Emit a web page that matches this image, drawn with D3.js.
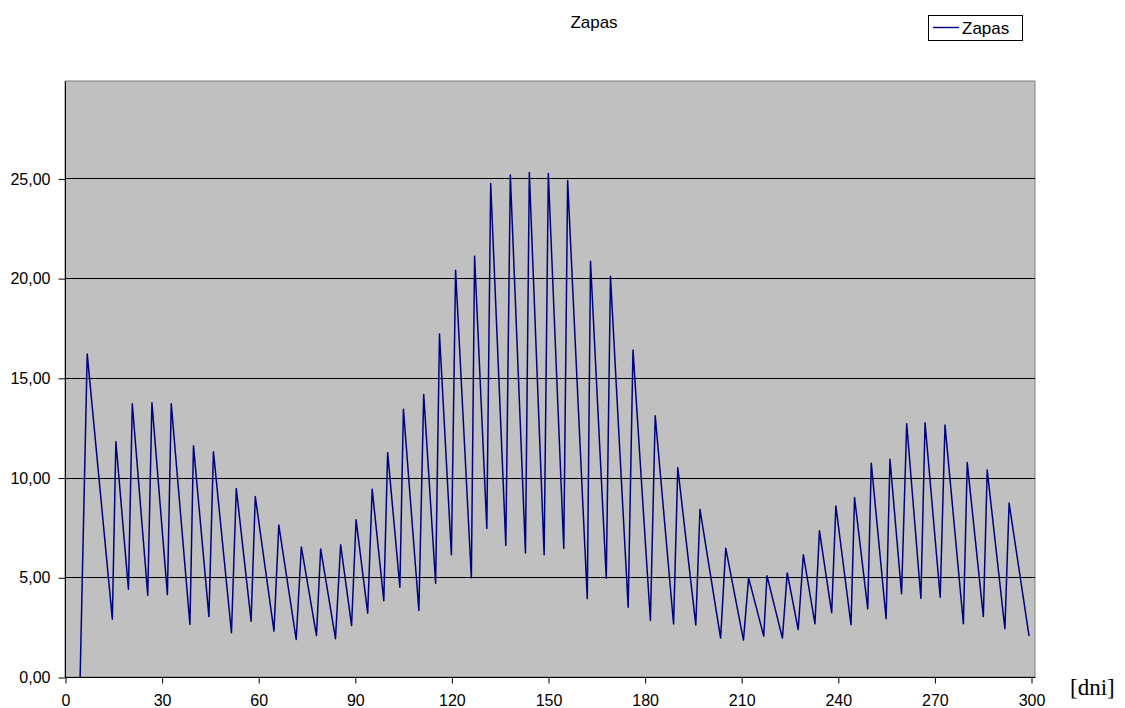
<!DOCTYPE html>
<html>
<head>
<meta charset="utf-8">
<script src="https://cdn.jsdelivr.net/npm/d3@7"></script>
<style>
  html, body { margin: 0; padding: 0; background: #fff; }
  svg { display: block; }
</style>
</head>
<body>
<svg id="chart" width="1125" height="708"></svg>
<script>
// vertices of the stock curve (day, stock) - troughs and peaks
const dni = [
  4.7, 6.9, 14.7, 15.8, 19.7, 20.9, 25.7, 27.0, 31.8, 33.0,
  38.8, 39.9, 44.7, 46.1, 51.7, 53.2, 57.8, 59.1, 64.9, 66.4,
  71.8, 73.4, 78.1, 79.4, 84.0, 85.6, 89.0, 90.4, 94.0, 95.4,
  99.0, 100.2, 104.0, 105.1, 109.9, 111.4, 115.1, 116.3, 120.0, 121.3,
  126.2, 127.2, 131.0, 132.2, 136.9, 138.3, 143.0, 144.2, 148.8, 150.1,
  154.9, 156.1, 162.2, 163.2, 168.1, 169.4, 174.9, 176.4, 181.8, 183.3,
  189.0, 190.3, 195.9, 197.2, 203.6, 205.2, 210.7, 212.3, 217.0, 218.0,
  222.8, 224.3, 227.7, 229.3, 232.9, 234.3, 238.1, 239.4, 244.1, 245.2,
  249.3, 250.4, 255.0, 256.2, 259.8, 261.4, 265.8, 267.1, 271.8, 273.3,
  279.0, 280.2, 285.2, 286.4, 291.9, 293.2, 299.4
];
const zapas = [
  0, 16.2, 2.9, 11.8, 4.4, 13.7, 4.1, 13.75, 4.13, 13.7,
  2.63, 11.6, 3.03, 11.3, 2.22, 9.45, 2.8, 9.05, 2.3, 7.62,
  1.88, 6.52, 2.08, 6.42, 1.92, 6.63, 2.58, 7.88, 3.2, 9.42,
  3.83, 11.25, 4.5, 13.43, 3.34, 14.17, 4.7, 17.2, 6.13, 20.4,
  4.98, 21.1, 7.45, 24.75, 6.6, 25.17, 6.22, 25.29, 6.13, 25.25,
  6.44, 24.9, 3.93, 20.85, 4.95, 20.1, 3.5, 16.4, 2.83, 13.1,
  2.66, 10.5, 2.61, 8.4, 1.95, 6.46, 1.85, 4.97, 2.05, 5.08,
  1.95, 5.22, 2.38, 6.13, 2.67, 7.33, 3.22, 8.58, 2.62, 9.0,
  3.42, 10.72, 2.92, 10.92, 4.17, 12.7, 3.95, 12.75, 4.0, 12.63,
  2.67, 10.75, 3.03, 10.38, 2.42, 8.72, 2.05
];
const xTicks = [0, 30, 60, 90, 120, 150, 180, 210, 240, 270, 300];
const yTicks = [0, 5, 10, 15, 20, 25];

const title = "Zapas";
const seriesName = "Zapas";
const xUnit = "[dni]";

const svg = d3.select("#chart");
const sans = "'Liberation Sans', Arial, sans-serif";

// plot area
const plotL = 65, plotR = 1035, plotT = 81, plotB = 677;

const x = d3.scaleLinear().domain([0, 300]).range([65, 1031]);
const y = d3.scaleLinear().domain([0, 25]).range([677, 178.4]);

svg.append("rect")
  .attr("x", plotL).attr("y", plotT)
  .attr("width", plotR - plotL).attr("height", plotB - plotT)
  .attr("fill", "#c0c0c0")
  .attr("stroke", "#808080")
  .attr("stroke-width", 1);

// gridlines
svg.append("g")
  .selectAll("line")
  .data(yTicks.filter(d => d > 0))
  .join("line")
  .attr("x1", plotL).attr("x2", plotR)
  .attr("y1", d => Math.round(y(d)) + 0.5)
  .attr("y2", d => Math.round(y(d)) + 0.5)
  .attr("stroke", "#000")
  .attr("stroke-width", 1);

// axes
const yAxis = d3.axisLeft(y)
  .tickValues(yTicks)
  .tickSize(7)
  .tickPadding(8)
  .tickFormat(d => d3.format(".2f")(d).replace(".", ","));

const gy = svg.append("g")
  .attr("transform", `translate(${plotL + 0.5},0.5)`)
  .call(yAxis);

const xAxis = d3.axisBottom(x)
  .tickValues(xTicks)
  .tickSize(6)
  .tickPadding(11)
  .tickFormat(d3.format("d"));

const gx = svg.append("g")
  .attr("transform", `translate(0.5,${plotB + 0.5})`)
  .call(xAxis);

[gx, gy].forEach(g => {
  g.select(".domain").attr("stroke", "#000");
  g.selectAll(".tick line").attr("stroke", "#000");
  g.selectAll("text")
    .attr("fill", "#000")
    .style("font-family", sans)
    .style("font-size", "16px");
});
gx.select(".domain").attr("d", `M${plotL},0H${plotR}`);
gy.select(".domain").attr("d", `M0,${plotB}V${plotT}`);

// series
const line = d3.line()
  .x(i => x(dni[i]))
  .y(i => y(zapas[i]));

svg.append("path")
  .datum(d3.range(dni.length))
  .attr("d", line)
  .attr("fill", "none")
  .attr("stroke", "#000080")
  .attr("stroke-width", 1.5)
  .attr("stroke-linejoin", "round");

// title
svg.append("text")
  .attr("x", 594).attr("y", 28)
  .attr("text-anchor", "middle")
  .style("font-family", sans)
  .style("font-size", "17px")
  .text(title);

// legend
const lg = svg.append("g");
lg.append("rect")
  .attr("x", 928.5).attr("y", 15.5)
  .attr("width", 94).attr("height", 25)
  .attr("fill", "#fff")
  .attr("stroke", "#000");
lg.append("line")
  .attr("x1", 933).attr("x2", 959)
  .attr("y1", 27.5).attr("y2", 27.5)
  .attr("stroke", "#000080")
  .attr("stroke-width", 1.4);
lg.append("text")
  .attr("x", 962).attr("y", 34)
  .style("font-family", sans)
  .style("font-size", "17px")
  .text(seriesName);

// x unit
svg.append("text")
  .attr("x", 1070).attr("y", 695)
  .style("font-family", "'Liberation Serif', 'Times New Roman', serif")
  .style("font-size", "23px")
  .text(xUnit);
</script>
</body>
</html>
